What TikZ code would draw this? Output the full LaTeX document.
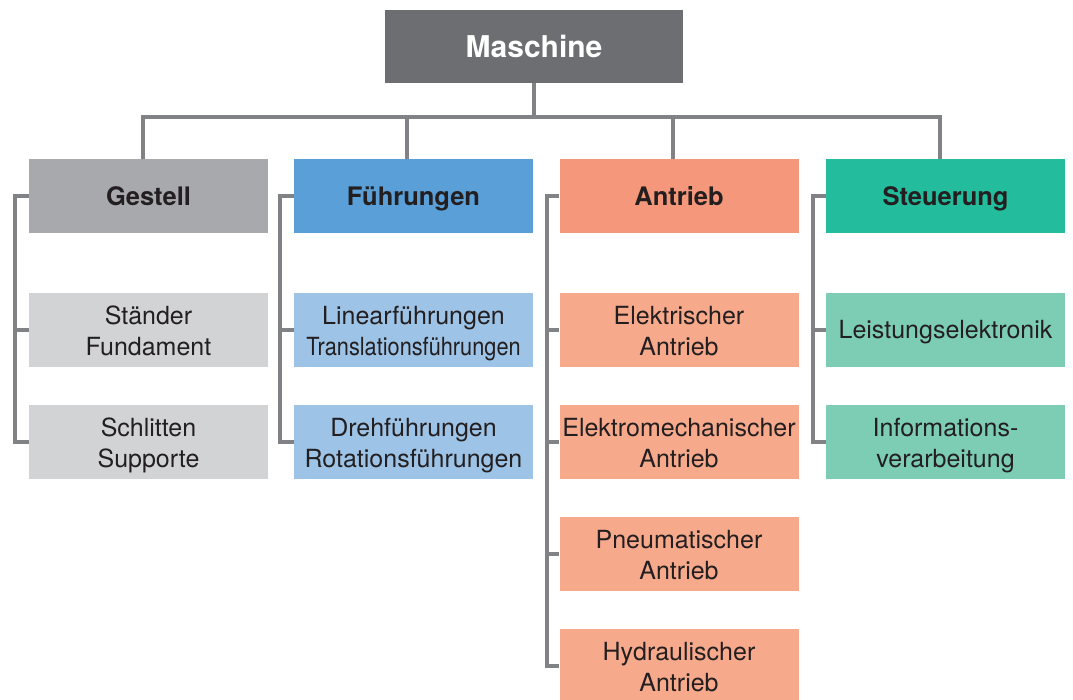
\documentclass[tikz,border=0pt]{standalone}
\usepackage{fontspec}
\setmainfont{TeX Gyre Heros}
\usetikzlibrary{calc}
\definecolor{cMasch}{HTML}{6D6E71}
\definecolor{cGest}{HTML}{A7A9AC}
\definecolor{cFuehr}{HTML}{5A9FD8}
\definecolor{cAntr}{HTML}{F4977A}
\definecolor{cSteu}{HTML}{23BC9C}
\definecolor{sGest}{HTML}{D1D3D4}
\definecolor{sFuehr}{HTML}{9DC3E6}
\definecolor{sAntr}{HTML}{F7A98C}
\definecolor{sSteu}{HTML}{7DCDB5}
\definecolor{cLine}{HTML}{808285}
\definecolor{cText}{HTML}{231F20}
\tikzset{
  box/.style={minimum width=239pt, minimum height=74pt, inner sep=0pt, align=center, text=cText},
  topbox/.style={box, text height=18.4pt, text depth=0pt, font=\fontsize{25.5}{30}\selectfont\bfseries},
  subbox/.style={box, text height=51pt, text depth=0pt, font=\fontsize{25}{31}\selectfont},
  conn/.style={draw=cLine, line width=4.5pt},
}
\newcommand{\narrow}[1]{\scalebox{0.87}[1]{#1}}
\begin{document}
\begin{tikzpicture}[x=1pt,y=-1pt]
\useasboundingbox (0,0) rectangle (1073,700);
\clip (0,0) rectangle (1073,700);
% root
\node[box, text height=21.6pt, text depth=0pt, fill=cMasch, minimum width=298pt, minimum height=73pt, text=white, font=\fontsize{30}{34}\selectfont\bfseries] (m) at (534,46.5) {Maschine};
% top boxes
\node[topbox, fill=cGest] (g) at (148.5,196) {Gestell};
\node[topbox, fill=cFuehr] (f) at (413.5,196) {Führungen};
\node[topbox, fill=cAntr] (a) at (679,196) {Antrieb};
\node[topbox, fill=cSteu] (s) at (945.5,196) {Steuerung};
% sub boxes
\node[subbox, fill=sGest] (g1) at (148.5,330) {Ständer\\Fundament};
\node[subbox, fill=sGest] (g2) at (148.5,442) {Schlitten\\Supporte};
\node[subbox, fill=sFuehr] (f1) at (413.5,330) {Linearführungen\\\narrow{Translationsführungen}};
\node[subbox, fill=sFuehr] (f2) at (413.5,442) {Drehführungen\\Rotationsführungen};
\node[subbox, fill=sAntr] (a1) at (679,330) {Elektrischer\\Antrieb};
\node[subbox, fill=sAntr] (a2) at (679,442) {Elektromechanischer\\Antrieb};
\node[subbox, fill=sAntr] (a3) at (679,554) {Pneumatischer\\Antrieb};
\node[subbox, fill=sAntr] (a4) at (679,666) {Hydraulischer\\Antrieb};
\node[subbox, text height=18pt, text depth=0pt, fill=sSteu] (s1) at (945.5,330) {Leistungselektronik};
\node[subbox, fill=sSteu] (s2) at (945.5,442) {Informations-\\verarbeitung};
% root connectors
\draw[conn] (m.south) -- ++(0,34) coordinate (bus);
\draw[conn] ([xshift=-5.5pt]g.north) |- (bus);
\draw[conn] ([xshift=-6.5pt]f.north) |- (bus);
\draw[conn] ([xshift=-6pt]a.north) |- (bus);
\draw[conn] ([xshift=-5.5pt]s.north) |- (bus);
% side connectors
\coordinate (gx) at (15,0);
\coordinate (fx) at (280,0);
\coordinate (ax) at (547,0);
\coordinate (sx) at (813,0);
\draw[conn, line join=miter] (g.west) -| (gx |- g2.west) -- (g2.west);
\draw[conn] (gx |- g1.west) -- (g1.west);
\draw[conn, line join=miter] (f.west) -| (fx |- f2.west) -- (f2.west);
\draw[conn] (fx |- f1.west) -- (f1.west);
\draw[conn, line join=miter] (a.west) -| (ax |- a4.west) -- (a4.west);
\draw[conn] (ax |- a1.west) -- (a1.west);
\draw[conn] (ax |- a2.west) -- (a2.west);
\draw[conn] (ax |- a3.west) -- (a3.west);
\draw[conn, line join=miter] (s.west) -| (sx |- s2.west) -- (s2.west);
\draw[conn] (sx |- s1.west) -- (s1.west);
\end{tikzpicture}
\end{document}
